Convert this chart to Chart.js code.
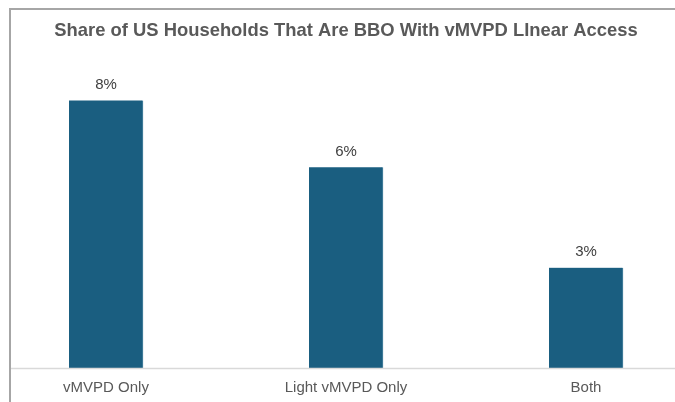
<!DOCTYPE html>
<html lang="en">
<head>
  <meta charset="UTF-8" />
  <title>Share of US Households That Are BBO With vMVPD Linear Access</title>
  <script src="https://cdn.jsdelivr.net/npm/chart.js"></script>
  <style>
    html, body { margin: 0; padding: 0; background: #fff; }
    #wrap { position: relative; width: 675px; height: 402px; overflow: hidden; }
    #frame { position: absolute; left: 9px; top: 8px; right: 0; bottom: 0;
             border-top: 2px solid #a6a6a6; border-left: 2px solid #a6a6a6; pointer-events: none; }
    canvas { position: absolute; left: 0; top: 0; }
  </style>
</head>
<body>
  <div id="wrap">
    <canvas id="chart" width="675" height="402"></canvas>
    <div id="frame"></div>
  </div>

  <script>
    const chartTitle = 'Share of US Households That Are BBO With vMVPD LInear Access';
    const categories = ['vMVPD Only', 'Light vMVPD Only', 'Both'];
    const shares = [8, 6, 3];
    const valueLabels = ['8%', '6%', '3%'];

    const barColor = '#1a5e80';
    const textColor = '#595959';
    const fontFamily = '"Liberation Sans", Arial, sans-serif';

    // title drawn across the full width (the built-in one is squeezed by the side padding)
    const titlePlugin = {
      id: 'wideTitle',
      afterDraw(chart) {
        const ctx = chart.ctx;
        ctx.save();
        ctx.font = 'bold 18.4px ' + fontFamily;
        ctx.fillStyle = textColor;
        ctx.textAlign = 'center';
        ctx.textBaseline = 'middle';
        ctx.fillText(chartTitle, 346, 31);
        ctx.restore();
      }
    };

    // value labels above each bar
    const valueLabelPlugin = {
      id: 'valueLabels',
      afterDatasetsDraw(chart) {
        const ctx = chart.ctx;
        const meta = chart.getDatasetMeta(0);
        ctx.save();
        ctx.font = '15px ' + fontFamily;
        ctx.fillStyle = '#404040';
        ctx.textAlign = 'center';
        ctx.textBaseline = 'bottom';
        meta.data.forEach((bar, i) => {
          ctx.fillText(valueLabels[i], bar.x, bar.y - 8);
        });
        ctx.restore();
      }
    };

    // baseline running across the whole frame at zero
    const baselinePlugin = {
      id: 'baseline',
      afterDatasetsDraw(chart) {
        const ctx = chart.ctx;
        const y = chart.scales.y.getPixelForValue(0);
        ctx.save();
        ctx.strokeStyle = '#d9d9d9';
        ctx.lineWidth = 1.5;
        ctx.beginPath();
        ctx.moveTo(10, y + 0.5);
        ctx.lineTo(chart.width, y + 0.5);
        ctx.stroke();
        ctx.restore();
      }
    };

    new Chart(document.getElementById('chart'), {
      type: 'bar',
      data: {
        labels: categories,
        datasets: [{
          data: shares,
          backgroundColor: barColor,
          borderColor: '#4f86a3',
          borderWidth: { top: 0, left: 0, bottom: 0, right: 1 },
          barThickness: 74,
          clip: false
        }]
      },
      options: {
        responsive: false,
        animation: false,
        events: [],
        layout: { padding: { left: 106, right: 89, top: 67, bottom: 0 } },
        plugins: {
          legend: { display: false },
          tooltip: { enabled: false },
          title: { display: false }
        },
        scales: {
          x: {
            offset: false,
            grid: { display: false, drawTicks: false },
            border: { display: false },
            ticks: { color: textColor, padding: 11, font: { family: fontFamily, size: 15 } },
            afterFit(scale) { scale.height = 34; }
          },
          y: {
            display: false,
            min: 0,
            max: 9
          }
        }
      },
      plugins: [titlePlugin, valueLabelPlugin, baselinePlugin]
    });
  </script>
</body>
</html>
